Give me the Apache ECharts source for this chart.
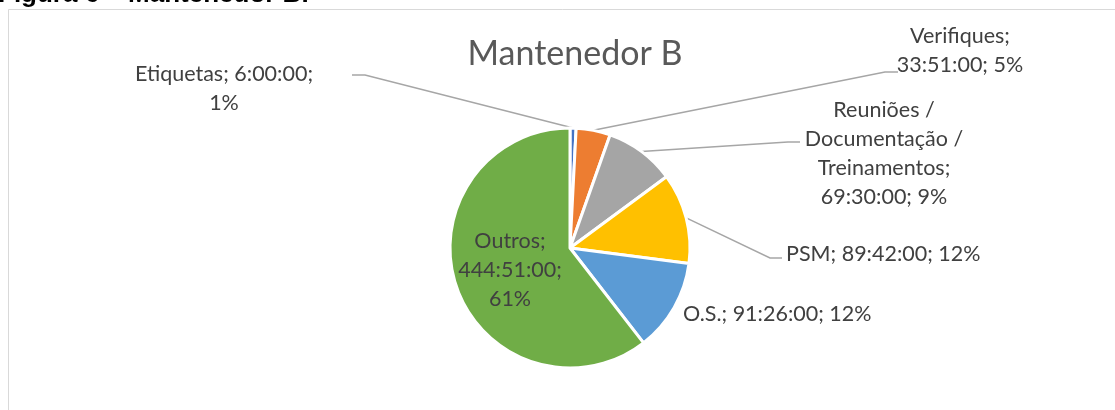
<!DOCTYPE html>
<html>
<head>
<meta charset="utf-8">
<script src="https://cdn.jsdelivr.net/npm/echarts@6/dist/echarts.min.js"></script>
<style>
html,body{margin:0;padding:0;background:#fff;}
#chart{width:1115px;height:410px;}
</style>
</head>
<body>
<div id="chart"></div>
<script>
// ---- data ----
const categories = ['Etiquetas', 'Verifiques', 'Reuniões / Documentação / Treinamentos', 'PSM', 'O.S.', 'Outros'];
const durations = ['6:00:00', '33:51:00', '69:30:00', '89:42:00', '91:26:00', '444:51:00'];
const percents = ['1%', '5%', '9%', '12%', '12%', '61%'];
const colors = ['#4472C4', '#ED7D31', '#A5A5A5', '#FFC000', '#5B9BD5', '#70AD47'];

function toHours(s) {
  const p = s.split(':').map(Number);
  return p[0] + p[1] / 60 + p[2] / 3600;
}

// ---- label layout (positions of text and leader lines) ----
const layout = [
  { groups: [2, 1], x: 224, y: 89, align: 'center', line: [[365, 75], [352, 75]] },
  { groups: [1, 2], x: 960, y: 51, align: 'center', line: [[885, 72], [898, 72]] },
  { groups: [1, 1, 1, 2], x: 884, y: 154, align: 'center', line: [[788, 142], [800, 142]] },
  { groups: [3], x: 786, y: 254, align: 'left', line: [[770, 258], [782, 258]] },
  { groups: [3], x: 683, y: 314, align: 'left', line: null },
  { groups: [1, 1, 1], x: 510, y: 270, align: 'center', line: null }
];

function labelText(i) {
  const nameParts = categories[i].split(' / ');
  const tokens = nameParts.map((s, k) => k < nameParts.length - 1 ? s + ' /' : s + ';');
  tokens.push(durations[i] + ';', percents[i]);
  const lines = [];
  let idx = 0;
  layout[i].groups.forEach(g => {
    lines.push(tokens.slice(idx, idx + g).join(' '));
    idx += g;
  });
  return lines.join('\n');
}

const seriesData = categories.map((c, i) => ({
  name: c,
  value: toHours(durations[i]),
  itemStyle: { color: colors[i] },
  labelLine: { show: !!layout[i].line }
}));

const chart = echarts.init(document.getElementById('chart'), null, { renderer: 'canvas' });
chart.setOption({
  animation: false,
  backgroundColor: '#ffffff',
  title: {
    text: 'Mantenedor B',
    left: 570,
    top: 32,
    textAlign: 'center',
    textStyle: { fontFamily: 'Lato', fontSize: 34, fontWeight: 'normal', color: '#595959' }
  },
  graphic: [
    {
      type: 'rect',
      shape: { x: 8.5, y: 9.5, width: 1200, height: 500 },
      style: { fill: 'none', stroke: '#d9d9d9', lineWidth: 1 },
      silent: true
    },
    {
      type: 'text',
      left: -2,
      top: -18,
      style: { text: 'Figura 6 – Mantenedor B.', font: 'bold 26px "Liberation Sans"', fill: '#000' },
      silent: true
    }
  ],
  series: [{
    type: 'pie',
    center: [570, 248],
    radius: 120,
    startAngle: 90,
    clockwise: true,
    avoidLabelOverlap: false,
    itemStyle: { borderColor: '#ffffff', borderWidth: 3 },
    label: {
      show: true,
      position: 'outside',
      formatter: p => labelText(p.dataIndex),
      fontFamily: 'Lato',
      fontSize: 21.5,
      lineHeight: 29,
      color: '#404040'
    },
    labelLine: {
      show: true,
      length: 20,
      length2: 10,
      lineStyle: { color: '#a6a6a6', width: 1.5 }
    },
    labelLayout: function (params) {
      const L = layout[params.dataIndex];
      const res = { x: L.x, y: L.y, align: L.align, verticalAlign: 'middle' };
      if (L.line && params.labelLinePoints && params.labelLinePoints[0]) {
        res.labelLinePoints = [params.labelLinePoints[0], L.line[0], L.line[1]];
      }
      return res;
    },
    data: seriesData
  }]
});
</script>
</body>
</html>
